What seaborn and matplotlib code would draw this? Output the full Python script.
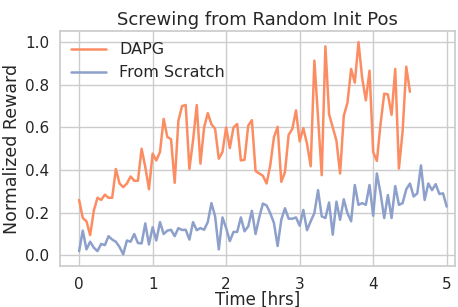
import numpy as np
import pandas as pd
import seaborn as sns
import matplotlib.pyplot as plt

# time step of the logged curves is 0.05 hrs
step = 0.05

dapg = [0.26, 0.175, 0.16, 0.095, 0.21, 0.27, 0.26, 0.285, 0.27, 0.27,
        0.405, 0.337, 0.32, 0.337, 0.37, 0.35, 0.35, 0.50, 0.415, 0.31,
        0.477, 0.445, 0.485, 0.64, 0.555, 0.545, 0.34, 0.63, 0.70, 0.705,
        0.405, 0.54, 0.705, 0.43, 0.60, 0.667, 0.615, 0.593, 0.453, 0.485,
        0.60, 0.503, 0.60, 0.616, 0.445, 0.448, 0.608, 0.634, 0.396, 0.384,
        0.373, 0.337, 0.422, 0.554, 0.603, 0.345, 0.39, 0.565, 0.593, 0.68,
        0.535, 0.596, 0.523, 0.418, 0.913, 0.647, 0.376, 0.98, 0.662, 0.60,
        0.538, 0.384, 0.654, 0.716, 0.874, 0.81, 1.0, 0.832, 0.727, 0.866,
        0.484, 0.443, 0.616, 0.758, 0.755, 0.659, 0.874, 0.407, 0.58, 0.885,
        0.767]

scratch = [0.02, 0.116, 0.028, 0.064, 0.036, 0.02, 0.054, 0.048, 0.09, 0.074,
           0.064, 0.039, 0.005, 0.07, 0.064, 0.10, 0.058, 0.056, 0.15, 0.051,
           0.132, 0.07, 0.156, 0.10, 0.116, 0.12, 0.09, 0.128, 0.119, 0.12,
           0.074, 0.156, 0.118, 0.128, 0.12, 0.156, 0.245, 0.183, 0.028, 0.178,
           0.128, 0.067, 0.11, 0.11, 0.178, 0.113, 0.136, 0.209, 0.10, 0.178,
           0.243, 0.234, 0.198, 0.152, 0.044, 0.167, 0.221, 0.172, 0.172, 0.178,
           0.139, 0.213, 0.118, 0.16, 0.198, 0.306, 0.183, 0.175, 0.248, 0.097,
           0.252, 0.167, 0.263, 0.198, 0.16, 0.33, 0.237, 0.245, 0.237, 0.33,
           0.186, 0.384, 0.291, 0.175, 0.283, 0.175, 0.325, 0.237, 0.245, 0.31,
           0.337, 0.276, 0.291, 0.422, 0.26, 0.337, 0.306, 0.334, 0.288, 0.291,
           0.229]

series_names = ["DAPG", "From Scratch"]

df = pd.concat([
    pd.DataFrame({"time": np.arange(len(dapg)) * step, "reward": dapg, "method": series_names[0]}),
    pd.DataFrame({"time": np.arange(len(scratch)) * step, "reward": scratch, "method": series_names[1]}),
])

sns.set_theme(style="whitegrid")
palette = sns.color_palette("Set2")
colors = {series_names[0]: palette[1], series_names[1]: palette[2]}

fig = plt.figure(figsize=(4.58, 3.07), dpi=100)
ax = fig.add_axes([0.131, 0.132, 0.862, 0.767])

sns.lineplot(data=df, x="time", y="reward", hue="method", palette=colors,
             linewidth=1.8, ax=ax)

ax.set_xlim(-0.26, 5.11)
ax.set_ylim(-0.052, 1.052)
ax.set_xticks([0, 1, 2, 3, 4, 5])
ax.set_yticks([0.0, 0.2, 0.4, 0.6, 0.8, 1.0])
ax.tick_params(labelsize=11, pad=1.5)
ax.set_xlabel("Time [hrs]", fontsize=12, labelpad=-1)
ax.set_ylabel("Normalized Reward", fontsize=12.5, labelpad=3)
ax.set_title("Screwing from Random Init Pos", fontsize=13, pad=4)

leg = ax.legend(loc="upper left", frameon=False, fontsize=11.5,
                handlelength=2.2, borderaxespad=0.3)
for line in leg.get_lines():
    line.set_linewidth(1.8)

fig.savefig("out.png", dpi=100)
